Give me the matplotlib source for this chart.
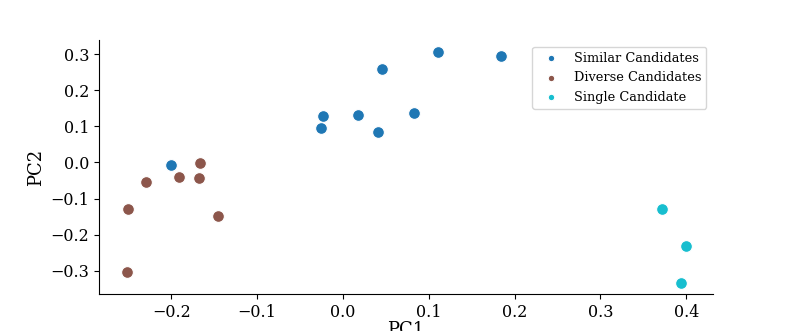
import matplotlib
matplotlib.use('Agg')
import matplotlib.pyplot as plt

plt.rcParams['font.family'] = 'DejaVu Serif'

# PCA coordinates
similar_x = [-0.200, -0.025, -0.023, 0.017, 0.041, 0.046, 0.083, 0.111, 0.184]
similar_y = [-0.006, 0.095, 0.129, 0.132, 0.085, 0.259, 0.138, 0.307, 0.296]
diverse_x = [-0.167, -0.191, -0.168, -0.229, -0.250, -0.145, -0.252]
diverse_y = [-0.001, -0.039, -0.043, -0.054, -0.128, -0.147, -0.304]
single_x = [0.372, 0.400, 0.394]
single_y = [-0.128, -0.232, -0.333]

fig = plt.figure(figsize=(7.93, 3.31), dpi=100)
ax = fig.add_axes([0.125, 0.112, 0.774, 0.767])

ax.scatter(similar_x, similar_y, s=72, color='tab:blue', edgecolor='white', linewidth=0.8, label='Similar Candidates')
ax.scatter(diverse_x, diverse_y, s=72, color='tab:brown', edgecolor='white', linewidth=0.8, label='Diverse Candidates')
ax.scatter(single_x, single_y, s=72, color='tab:cyan', edgecolor='white', linewidth=0.8, label='Single Candidate')

ax.set_xlim(-0.284, 0.431)
ax.set_ylim(-0.364, 0.339)
ax.set_xticks([-0.2, -0.1, 0.0, 0.1, 0.2, 0.3, 0.4])
ax.set_yticks([-0.3, -0.2, -0.1, 0.0, 0.1, 0.2, 0.3])
ax.tick_params(labelsize=11.5)
ax.set_xlabel('PC1', fontsize=13, labelpad=0)
ax.set_ylabel('PC2', fontsize=13)

ax.spines['top'].set_visible(False)
ax.spines['right'].set_visible(False)

ax.legend(loc='upper right', fontsize=9.3, markerscale=0.55)

fig.savefig('out.png')
